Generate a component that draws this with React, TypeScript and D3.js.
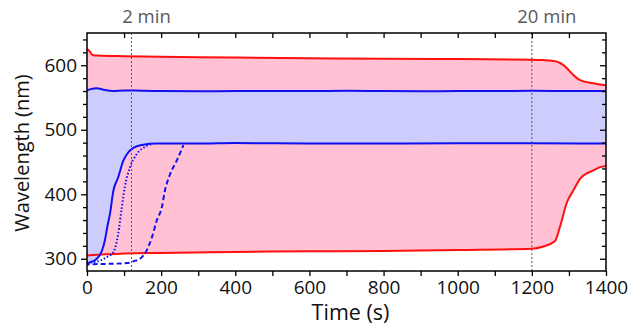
import { useEffect, useRef } from "react";
import * as d3 from "d3";

const svg_width = 630;
const svg_height = 330;
const margin = { top: 33, right: 24, bottom: 59, left: 87 };

const [x_min, x_max] = [0, 1400];
const [y_min, y_max] = [281, 650];

// red envelope, upper edge
const redUpperT = [0, 5, 15, 30, 100, 200, 400, 600, 800, 1000, 1200, 1230, 1249, 1265, 1276, 1290, 1300, 1312, 1330, 1366, 1400];
const redUpperV = [625, 623, 616, 615, 614, 613, 612, 611, 610, 609.5, 608.5, 608, 607.5, 606, 603.5, 598, 592, 585, 577, 572, 569];

// red envelope, lower edge
const redLowerT = [0, 50, 100, 200, 400, 600, 800, 1000, 1200, 1231, 1262, 1276, 1295, 1312, 1330, 1366, 1384, 1400];
const redLowerV = [305, 307, 308, 309, 310.5, 311.5, 312, 313.5, 315.5, 319, 327, 350, 388, 406, 424, 437, 442, 444];

// blue band, upper edge
const blueUpperT = [0, 10, 26, 45, 70, 100, 150, 200, 300, 400, 500, 600, 700, 800, 900, 1000, 1100, 1200, 1300, 1400];
const blueUpperV = [561, 563, 564.5, 562, 560, 561, 560.5, 560, 559.5, 560, 560, 560, 560.5, 560, 559.5, 560, 560, 560.5, 560, 560];

// blue band, lower edge (solid)
const blueLowerT = [0, 8, 20, 30, 40, 48, 55, 62, 71, 84, 98, 110, 125, 148, 188, 300, 400, 600, 800, 1000, 1200, 1400];
const blueLowerV = [292, 294.5, 297, 302, 312, 328, 350, 370, 405, 426, 452, 464, 472, 476.5, 478.5, 478.5, 479.5, 478.5, 478.5, 479, 479, 478.5];

// dotted blue
const dottedT = [0, 8, 35, 55, 71, 84, 94, 102, 116, 134, 161, 175];
const dottedV = [293, 294, 297, 303, 310, 338, 380, 411, 442, 462, 475, 478];

// dashed blue
const dashedT = [0, 3, 8, 50, 100, 116, 125, 143, 161, 175, 188, 202, 210, 224, 242, 260];
const dashedV = [296, 291, 291.5, 292, 293, 294, 296, 300, 313, 333, 359, 380, 405, 431, 452, 476];

const markers = [
    { t: 120, label: "2 min" },
    { t: 1200, label: "20 min" },
];

const xTicks = [0, 200, 400, 600, 800, 1000, 1200, 1400];
const yTicks = [300, 400, 500, 600];

const font = "'Open Sans', 'Noto Sans', sans-serif";
const red = "#ff1010";
const blue = "#1010f0";

const zip = (t: number[], v: number[]) => t.map((d, i) => [d, v[i]] as [number, number]);

export default function App() {
    const ref = useRef(null);

    useEffect(() => {
        const svg = d3.select(ref.current)
            .append("svg")
                .attr("width", svg_width)
                .attr("height", svg_height)
                .style("position", "absolute")
                .style("left", 0)
                .style("top", 0)
                .style("background-color", "white");

        const width = svg_width - margin.left - margin.right;
        const height = svg_height - margin.top - margin.bottom;

        const g = svg.append("g")
            .attr("transform", `translate(${margin.left}, ${margin.top})`);

        const x = d3.scaleLinear().domain([x_min, x_max]).range([0, width]);
        const y = d3.scaleLinear().domain([y_min, y_max]).range([height, 0]);

        const line = d3.line<[number, number]>()
            .x(d => x(d[0]))
            .y(d => y(d[1]))
            .curve(d3.curveMonotoneX);

        const areaDown = d3.area<[number, number]>()
            .x(d => x(d[0]))
            .y0(height)
            .y1(d => y(d[1]))
            .curve(d3.curveMonotoneX);

        const areaUp = d3.area<[number, number]>()
            .x(d => x(d[0]))
            .y0(0)
            .y1(d => y(d[1]))
            .curve(d3.curveMonotoneX);

        const redUpper = zip(redUpperT, redUpperV);
        const redLower = zip(redLowerT, redLowerV);
        const blueUpper = zip(blueUpperT, blueUpperV);
        const blueLower = zip(blueLowerT, blueLowerV);

        const defs = svg.append("defs");
        defs.append("clipPath").attr("id", "clip-red")
            .append("path").attr("d", areaUp(redLower));
        defs.append("clipPath").attr("id", "clip-blue")
            .append("path").attr("d", areaUp(blueLower));
        defs.append("clipPath").attr("id", "clip-plot")
            .append("rect").attr("width", width).attr("height", height);

        const plot = g.append("g").attr("clip-path", "url(#clip-plot)");

        plot.append("g").attr("clip-path", "url(#clip-red)")
            .append("path")
                .attr("d", areaDown(redUpper))
                .attr("fill", "#ffc1d3");

        plot.append("g").attr("clip-path", "url(#clip-blue)")
            .append("path")
                .attr("d", areaDown(blueUpper))
                .attr("fill", "#cdcdfd");

        // marker lines, label sits a bit right of the line
        markers.forEach(m => {
            g.append("line")
                .attr("x1", x(m.t)).attr("x2", x(m.t))
                .attr("y1", 0).attr("y2", height)
                .attr("stroke", "#555")
                .attr("stroke-width", 1)
                .attr("stroke-dasharray", "2,2");
            g.append("text")
                .attr("x", x(m.t) + 15)
                .attr("y", -10)
                .attr("text-anchor", "middle")
                .attr("font-family", font)
                .attr("font-size", 18.5)
                .attr("fill", "#595959")
                .text(m.label);
        });

        const series = [
            { data: redUpper, color: red, dash: null },
            { data: redLower, color: red, dash: null },
            { data: blueUpper, color: blue, dash: null },
            { data: blueLower, color: blue, dash: null },
            { data: zip(dottedT, dottedV), color: blue, dash: "1.5,2" },
            { data: zip(dashedT, dashedV), color: blue, dash: "5,3" },
        ];

        plot.selectAll(".series")
            .data(series)
            .enter()
            .append("path")
                .attr("d", d => line(d.data))
                .attr("fill", "none")
                .attr("stroke", d => d.color)
                .attr("stroke-width", 2)
                .attr("stroke-dasharray", d => d.dash);

        // axes
        const xAxis = g.append("g")
            .attr("transform", `translate(0, ${height})`)
            .call(d3.axisBottom(x).tickValues(xTicks).tickSize(5).tickPadding(5).tickFormat(d3.format("d")));
        g.append("g")
            .attr("transform", `translate(0, ${height})`)
            .call(d3.axisBottom(x).tickValues(d3.range(100, 1400, 200)).tickSize(5).tickFormat(() => ""));

        const yAxis = g.append("g")
            .call(d3.axisLeft(y).tickValues(yTicks).tickSize(6).tickPadding(4));
        g.append("g")
            .call(d3.axisLeft(y).tickValues(d3.range(300, 650, 20).filter(v => v % 100 !== 0)).tickSize(4).tickFormat(() => ""));

        g.append("g")
            .call(d3.axisTop(x).tickValues(d3.range(100, 1400, 100)).tickSize(-5).tickFormat(() => ""));
        g.append("g")
            .attr("transform", `translate(${width}, 0)`)
            .call(d3.axisRight(y).tickValues(yTicks).tickSize(-6).tickFormat(() => ""));
        g.append("g")
            .attr("transform", `translate(${width}, 0)`)
            .call(d3.axisRight(y).tickValues(d3.range(300, 650, 20).filter(v => v % 100 !== 0)).tickSize(-4).tickFormat(() => ""));

        g.selectAll(".domain").remove();
        g.selectAll(".tick line").attr("stroke", "black").attr("stroke-width", 1.3);

        [xAxis, yAxis].forEach(a => a.selectAll("text")
            .attr("font-family", font)
            .attr("font-size", 19)
            .attr("fill", "#111"));

        g.append("rect")
            .attr("width", width)
            .attr("height", height)
            .attr("fill", "none")
            .attr("stroke", "black")
            .attr("stroke-width", 1.5);

        g.append("text")
            .attr("x", width / 2 + 4)
            .attr("y", height + 49)
            .attr("text-anchor", "middle")
            .attr("font-family", font)
            .attr("font-size", 21.5)
            .attr("fill", "#111")
            .text("Time (s)");

        g.append("text")
            .attr("transform", `translate(-58, ${height / 2 + 1}) rotate(-90)`)
            .attr("text-anchor", "middle")
            .attr("font-family", font)
            .attr("font-size", 20)
            .attr("fill", "#111")
            .text("Wavelength (nm)");

        return () => {
            d3.select(ref.current).selectAll("*").remove();
        };
    }, [ref]);

    return (
        <div ref={ref} />
    );
}
